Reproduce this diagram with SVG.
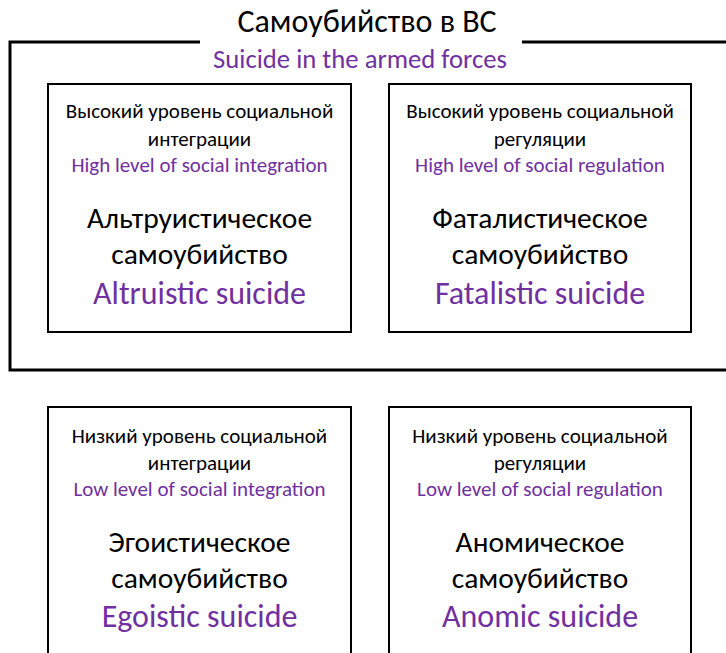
<svg xmlns="http://www.w3.org/2000/svg" width="726" height="653" viewBox="0 0 726 653">
<style>
text{font-family:Carlito,Calibri,Lato,"Liberation Sans",sans-serif;text-anchor:middle}
.s{font-size:21px;fill:#000}
.se{font-size:21px;fill:#7030A0}
.b{font-size:29.5px;fill:#000}
.be{font-size:32px;fill:#7030A0}
.box{fill:#fff;stroke:#000;stroke-width:2}
</style>
<rect width="726" height="653" fill="#fff"/>
<g id="connectors"></g>
<g id="frame">
<path d="M200 42 H10 V370 H740 V42 H522" fill="none" stroke="#000" stroke-width="3"/>
<text x="367" y="32" style="font-size:32px;fill:#000">Самоубийство в ВС</text>
<text x="360" y="68" style="font-size:26.7px;fill:#7030A0">Suicide in the armed forces</text>
</g>
<g id="altruistic">
<rect class="box" x="48" y="84" width="303" height="248"/>
<text class="s" x="199.5" y="118">Высокий уровень социальной</text>
<text class="s" x="199.5" y="146">интеграции</text>
<text class="se" x="199.5" y="172">High level of social integration</text>
<text class="b" x="199.5" y="228">Альтруистическое</text>
<text class="b" x="199.5" y="264">самоубийство</text>
<text class="be" x="199.5" y="304">Altruistic suicide</text>
</g>
<g id="fatalistic">
<rect class="box" x="389" y="84" width="302" height="248"/>
<text class="s" x="540" y="118">Высокий уровень социальной</text>
<text class="s" x="540" y="146">регуляции</text>
<text class="se" x="540" y="172">High level of social regulation</text>
<text class="b" x="540" y="228">Фаталистическое</text>
<text class="b" x="540" y="264">самоубийство</text>
<text class="be" x="540" y="304">Fatalistic suicide</text>
</g>
<g id="egoistic">
<rect class="box" x="48" y="407" width="303" height="260"/>
<text class="s" x="199.5" y="443">Низкий уровень социальной</text>
<text class="s" x="199.5" y="470">интеграции</text>
<text class="se" x="199.5" y="496">Low level of social integration</text>
<text class="b" x="199.5" y="552">Эгоистическое</text>
<text class="b" x="199.5" y="588">самоубийство</text>
<text class="be" x="199.5" y="627">Egoistic suicide</text>
</g>
<g id="anomic">
<rect class="box" x="389" y="407" width="302" height="260"/>
<text class="s" x="540" y="443">Низкий уровень социальной</text>
<text class="s" x="540" y="470">регуляции</text>
<text class="se" x="540" y="496">Low level of social regulation</text>
<text class="b" x="540" y="552">Аномическое</text>
<text class="b" x="540" y="588">самоубийство</text>
<text class="be" x="540" y="627">Anomic suicide</text>
</g>
</svg>
